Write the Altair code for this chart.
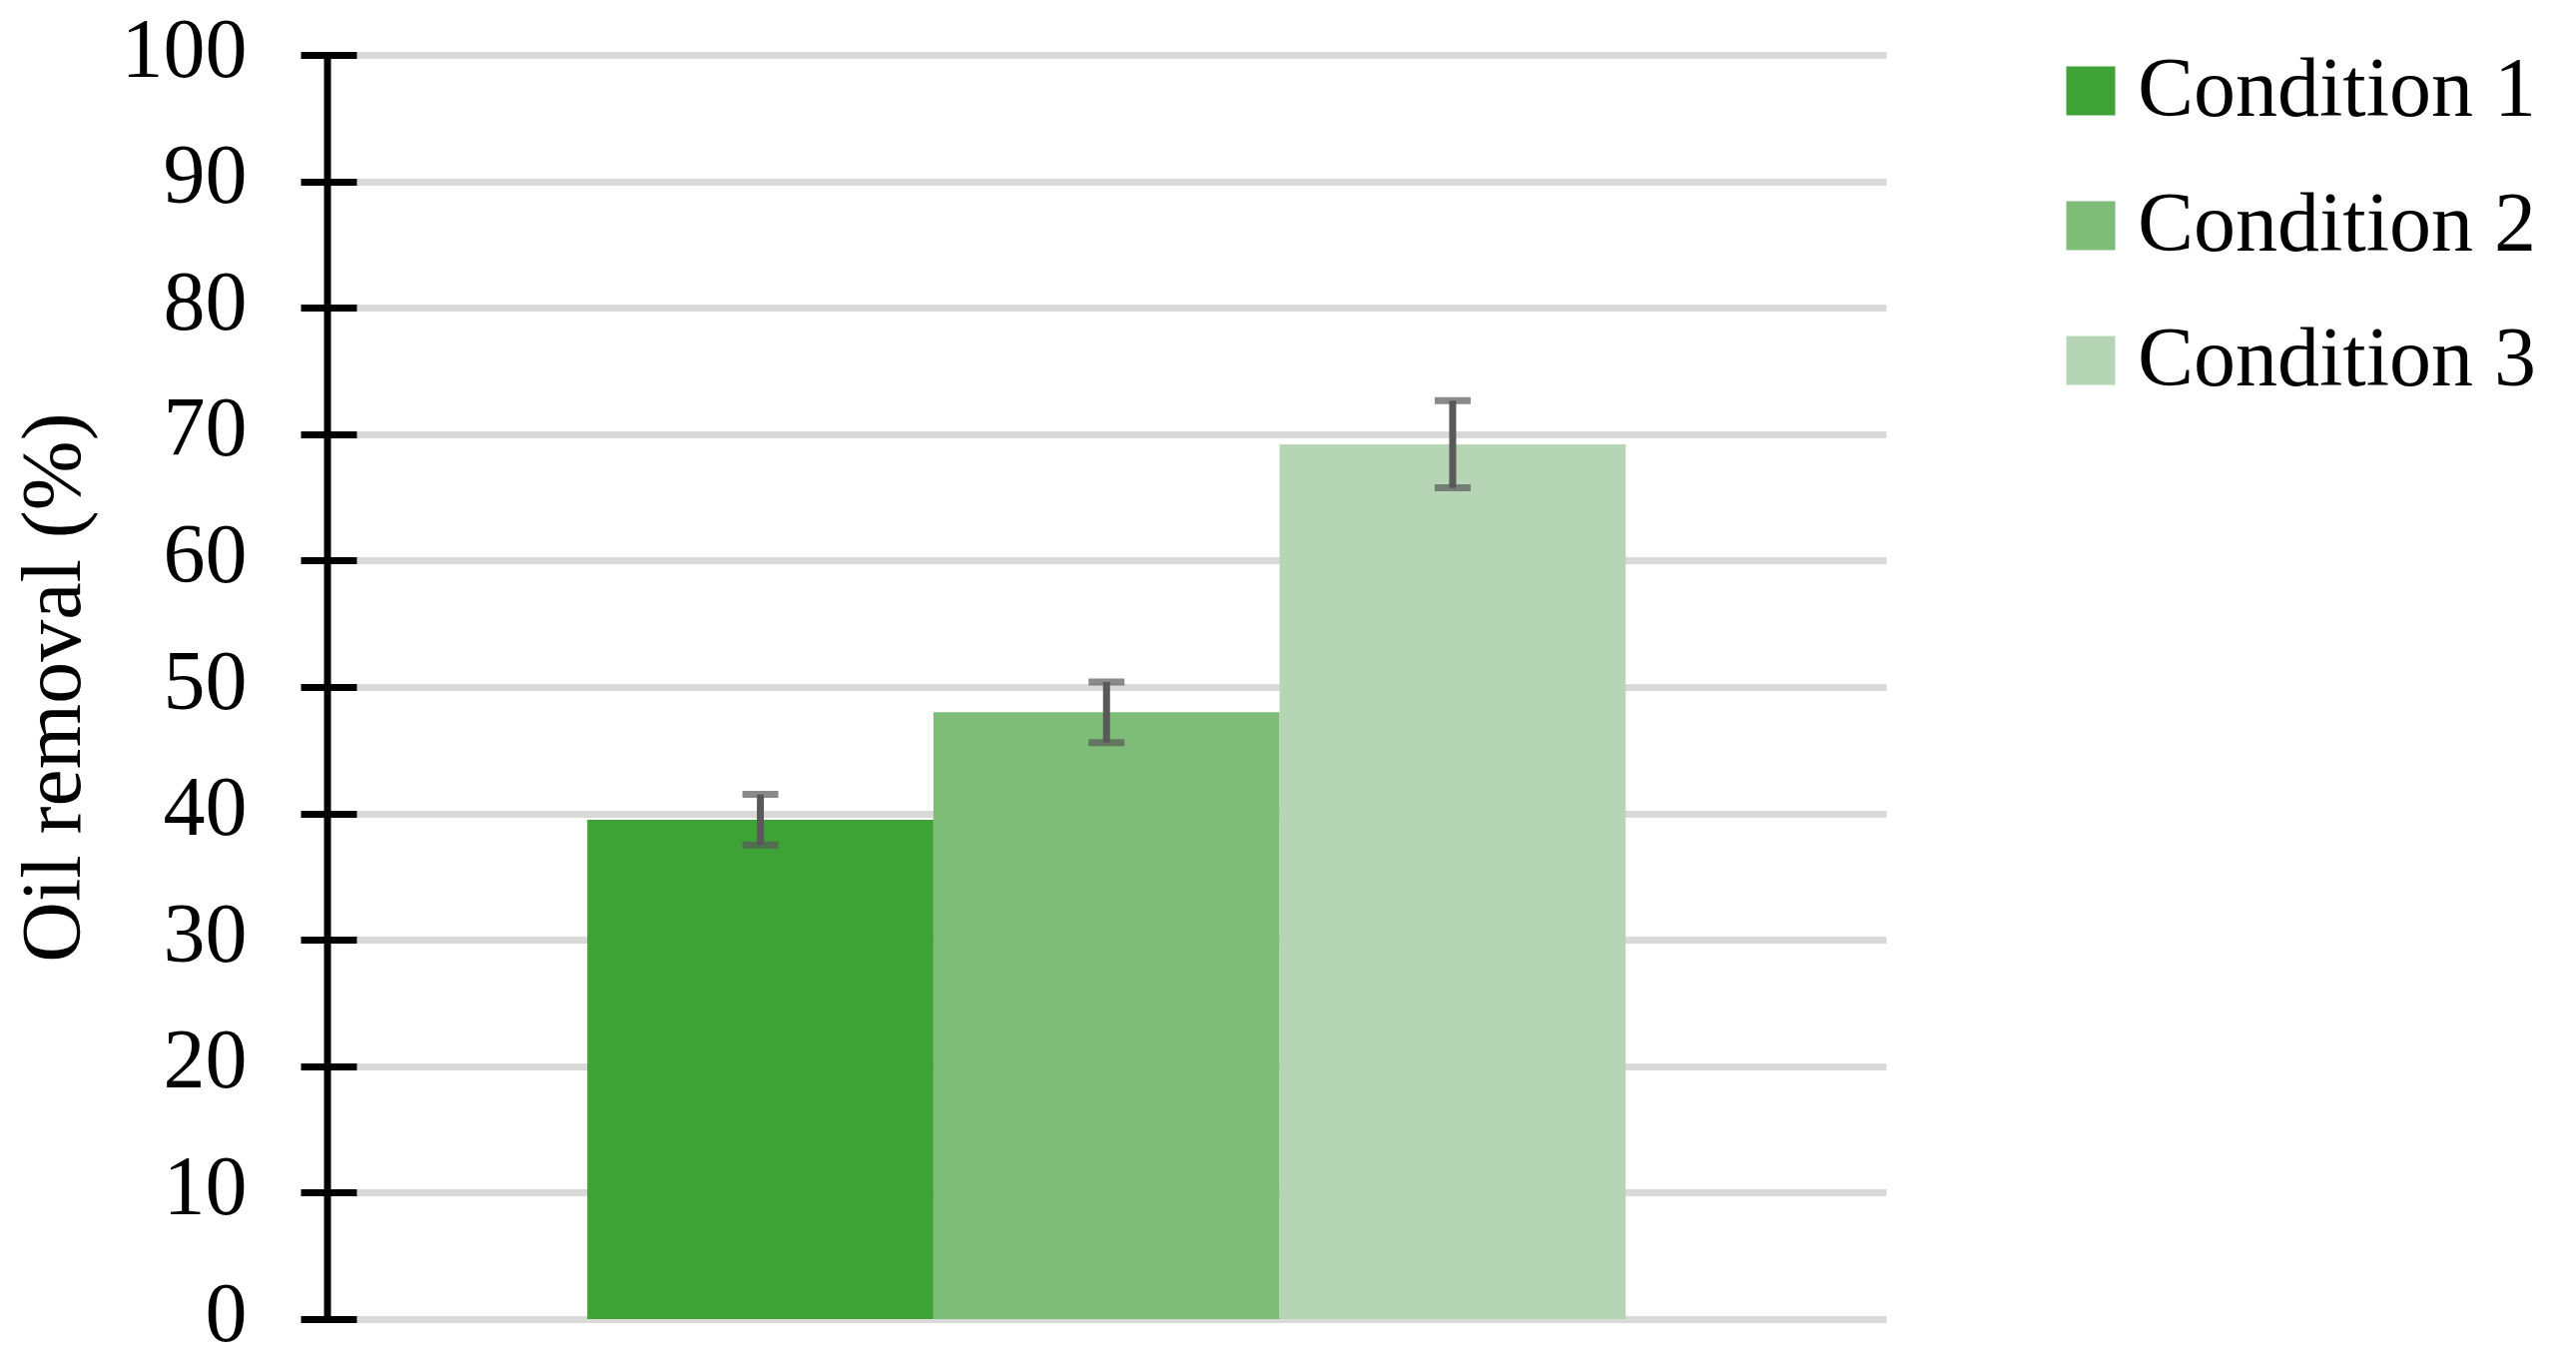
import altair as alt
import pandas as pd

conditions = ["Condition 1", "Condition 2", "Condition 3"]
removal = [39.5, 48.0, 69.2]
err = [2.0, 2.4, 3.45]
colors = ["#3EA236", "#7DBD77", "#B6D5B4"]
y_ticks = [0, 10, 20, 30, 40, 50, 60, 70, 80, 90, 100]

df = pd.DataFrame({
    "Condition": conditions,
    "Removal": removal,
    "lower": [v - e for v, e in zip(removal, err)],
    "upper": [v + e for v, e in zip(removal, err)],
})

FONT = "Liberation Serif"
W, H = 1532, 1266

xenc = alt.X("Condition:N", sort=conditions, axis=None,
             scale=alt.Scale(paddingInner=0, paddingOuter=0.7095, align=0.47))
yscale = alt.Scale(domain=[0, 100], nice=False)

base = alt.Chart(df)

bars = base.mark_bar().encode(
    x=xenc,
    y=alt.Y("Removal:Q", scale=yscale,
            axis=alt.Axis(values=y_ticks, title="Oil removal (%)",
                          grid=True, gridColor="#D9D9D9", gridWidth=7,
                          domain=False, ticks=True, tickSize=56, tickWidth=7,
                          tickColor="black", labelPadding=54, labelOffset=-4,
                          labelFont=FONT, labelFontSize=84, labelColor="black",
                          titleFont=FONT, titleFontSize=84, titleColor="black",
                          titleFontWeight="normal", titleX=-303, titleY=H / 2,
                          titleBaseline="middle", titleAlign="center", titleAngle=270)),
    color=alt.Color("Condition:N", sort=conditions,
                    scale=alt.Scale(domain=conditions, range=colors),
                    legend=alt.Legend(title=None, orient="none", legendX=1695, legendY=-6,
                                      symbolType="square", symbolSize=2401,
                                      symbolStrokeWidth=0, labelOffset=5,
                                      labelFont=FONT, labelFontSize=84, labelColor="black",
                                      rowPadding=51, padding=0, labelLimit=1000)),
)

stems = base.mark_rule(color="#595959", strokeWidth=7).encode(
    x=xenc, y=alt.Y("lower:Q", scale=yscale), y2="upper:Q")

cap_lo = base.mark_tick(color="#595959", thickness=7, size=36).encode(
    x=xenc, y=alt.Y("lower:Q", scale=yscale))
cap_hi = base.mark_tick(color="#595959", thickness=7, size=36).encode(
    x=xenc, y=alt.Y("upper:Q", scale=yscale))

domain_line = alt.Chart(pd.DataFrame({"a": [0]})).mark_rule(
    color="black", strokeWidth=7).encode(
    x=alt.value(-29), y=alt.datum(0, scale=yscale), y2=alt.datum(100))

chart = alt.layer(bars, stems, cap_lo, cap_hi, domain_line).properties(
    width=W, height=H,
    background="white",
    autosize=alt.AutoSizeParams(type="none"),
    padding={"left": 349, "top": 47, "right": 680, "bottom": 44},
).configure_view(stroke=None)

chart.save("out.html", embed_options={"renderer": "svg", "actions": False})
